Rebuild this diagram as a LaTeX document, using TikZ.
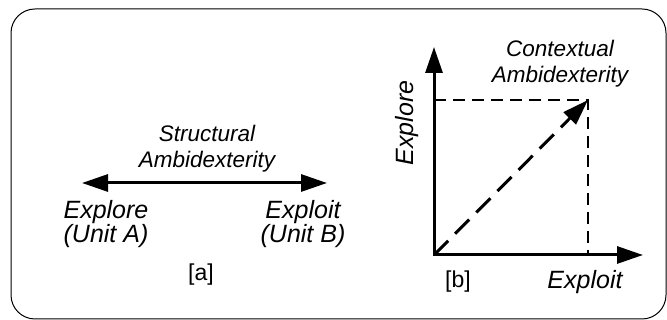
\documentclass[tikz,border=0pt]{standalone}
\usepackage{fontspec}
\setmainfont{Liberation Sans}
\usetikzlibrary{arrows.meta,positioning}

\begin{document}
\begin{tikzpicture}[x=1pt,y=1pt,>={Triangle[length=26pt,width=17pt]},
  lbl/.style={font=\fontsize{25}{23}\selectfont\itshape,align=center,inner sep=0pt},
  headlbl/.style={font=\fontsize{22.5}{26}\selectfont\itshape,align=center,inner sep=0pt},
  tag/.style={font=\fontsize{23}{26}\selectfont,inner sep=0pt},
  axisline/.style={line width=3pt},
  guide/.style={line width=1.3pt,dash pattern=on 12pt off 7pt}]
\useasboundingbox (0,0) rectangle (667,320);
\draw[rounded corners=24pt,line width=1pt] (11,1) rectangle (666,311);
% [a] structural
\coordinate (al) at (82,137);
\coordinate (ar) at (327,137);
\draw[<->,axisline] (al) -- (ar);
\node[headlbl] (sa) at (207,171) {Structural\\Ambidexterity};
\node[lbl] (ea) at (106,96) {Explore\\(Unit A)};
\node[lbl] (eb) at (303,96) {Exploit\\(Unit B)};
\node[tag] (ta) at (201,45) {[a]};
% [b] contextual
\coordinate (o) at (434,65);
\coordinate (yt) at (434,273);
\coordinate (xt) at (643,65);
\coordinate (p) at (588,220);
\draw[guide] (o |- p) -- (p) -- (p |- o);
\draw[<->,axisline] (yt) -- (o) -- (xt);
\draw[->,axisline,dash pattern=on 20pt off 10pt] (o) -- (p);
\node[headlbl] (sb) at (560,256) {Contextual\\Ambidexterity};
\node[lbl,rotate=90] (ey) at (407,197) {Explore};
\node[lbl] (ex) at (585,38) {Exploit};
\node[tag] (tb) at (458,38) {[b]};
\end{tikzpicture}
\end{document}
